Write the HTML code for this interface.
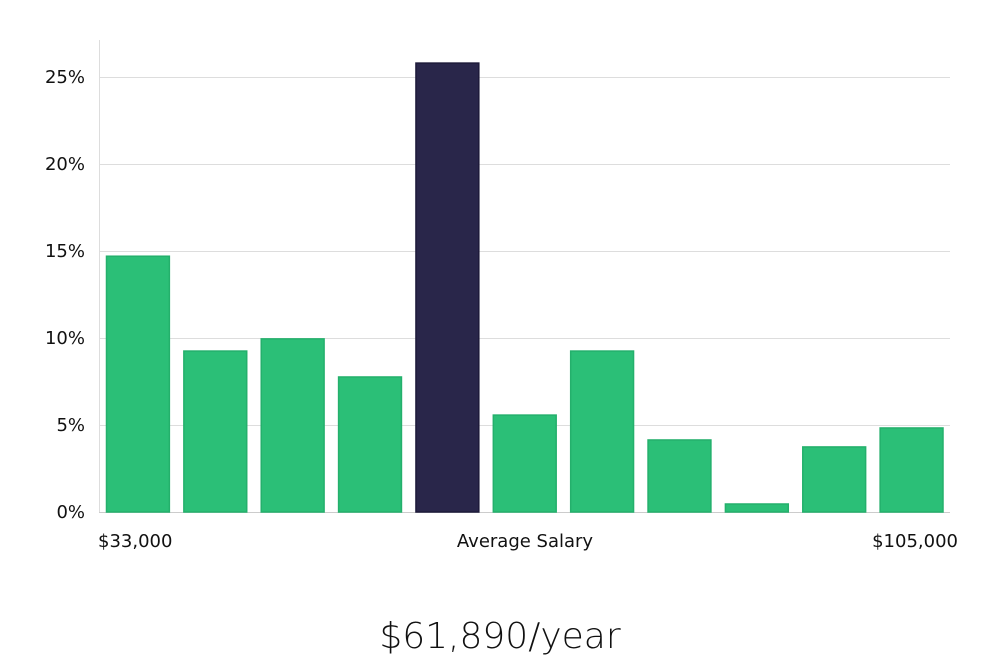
<!DOCTYPE html>
<html><head><meta charset="utf-8">
<style>
html,body{margin:0;padding:0;background:#fff;}
body{width:1000px;height:660px;overflow:hidden;font-family:"DejaVu Sans","Liberation Sans",sans-serif;}
svg text{font-family:"DejaVu Sans","Liberation Sans",sans-serif;}
</style></head>
<body>
<svg id="chart" width="1000" height="660" viewBox="0 0 1000 660" xmlns="http://www.w3.org/2000/svg">
  <g id="grid"></g>
  <line x1="99.5" y1="40" x2="99.5" y2="512" stroke="#ddd" stroke-width="1"/>
  <g id="yticks"></g>
  <g id="bars"></g>
  <text x="98" y="547" font-size="18" fill="#111">$33,000</text>
  <text x="525" y="547" font-size="18" fill="#111" text-anchor="middle">Average Salary</text>
  <text x="958" y="547" font-size="18" fill="#111" text-anchor="end">$105,000</text>
  <text x="500" y="648" font-size="36" fill="#111" text-anchor="middle" font-family="Liberation Sans, sans-serif" style="font-weight:300">$61,890/year</text>
</svg>
<script>
const categories = ["b1","b2","b3","b4","b5","b6","b7","b8","b9","b10","b11"];
const values = [14.7, 9.25, 9.95, 7.76, 25.8, 5.57, 9.25, 4.14, 0.46, 3.74, 4.83];
const highlightIndex = 4;
const yTicks = [0, 5, 10, 15, 20, 25];
const yTickLabels = ["0%", "5%", "10%", "15%", "20%", "25%"];

const NS = "http://www.w3.org/2000/svg";
const plotLeft = 99, plotRight = 950, plotBottom = 512, plotTop25 = 77;
function yScale(v){ return plotBottom - v * (plotBottom - plotTop25) / 25; }
const band = (plotRight - plotLeft) / categories.length;
function xScale(i){ return plotLeft + i * band; }

const grid = document.getElementById('grid');
const yt = document.getElementById('yticks');
yTicks.forEach((t, i) => {
  const y = Math.round(yScale(t)) + 0.5;
  const l = document.createElementNS(NS, 'line');
  
  
  l.setAttribute('x1', plotLeft); l.setAttribute('x2', plotRight);
  l.setAttribute('y1', y); l.setAttribute('y2', y);
  l.setAttribute('stroke', t === 0 ? '#ccc' : '#ddd');
  grid.appendChild(l);
  const tx = document.createElementNS(NS, 'text');
  
  
  tx.setAttribute('x', 85); tx.setAttribute('y', yScale(t) + 6);
  tx.setAttribute('text-anchor', 'end');
  tx.setAttribute('font-size', '18');
  tx.setAttribute('fill', '#111');
  tx.textContent = yTickLabels[i];
  yt.appendChild(tx);
});

const bars = document.getElementById('bars');
values.forEach((v, i) => {
  const r = document.createElementNS(NS, 'rect');
  
  
  const x = xScale(i) + 7.5;
  const w = band - 14.5;
  const y = yScale(v);
  r.setAttribute('x', x); r.setAttribute('y', y);
  r.setAttribute('width', w); r.setAttribute('height', plotBottom - y);
  const hi = i === highlightIndex;
  r.setAttribute('fill', hi ? '#29264a' : '#2bbf77');
  r.setAttribute('stroke', hi ? '#1d1a3a' : '#24b06c');
  r.setAttribute('stroke-width', '1.5');
  bars.appendChild(r);
});
</script>
</body></html>
